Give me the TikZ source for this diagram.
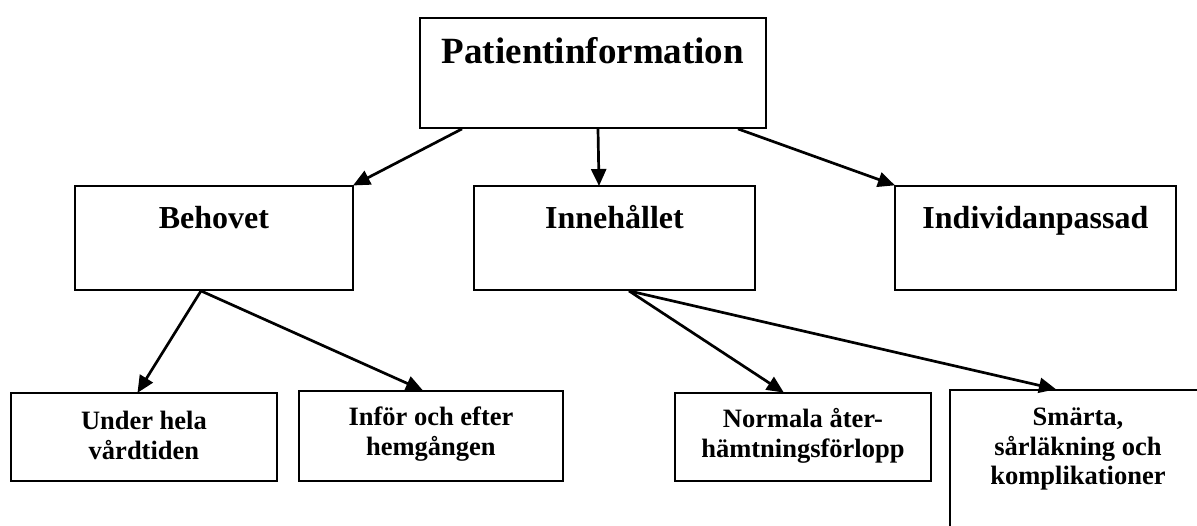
\documentclass[tikz,border=0pt]{standalone}
\usepackage{fontspec}
\setmainfont{Liberation Serif}
\usetikzlibrary{arrows.meta}
\newcommand{\boxtxt}[5]{\parbox[c][#2pt][t]{#1pt}{\centering\fontsize{#3}{#4}\selectfont\bfseries #5}}
\tikzset{
  box/.style={draw, line width=1.9pt, inner sep=0pt, anchor=north west},
  conn/.style={line width=2.7pt, -{Triangle[length=17pt,width=15pt]}, shorten >=-1pt}
}
\begin{document}
\begin{tikzpicture}[x=1pt,y=-1pt]
\clip (0,0) rectangle (1197,525);
\node[box] (top) at (419,17) {\boxtxt{346}{110}{37}{44}{\rule{0pt}{46pt}Patientinformation}};
\node[box] (beh) at (74,185) {\boxtxt{278}{104}{32}{38}{\rule{0pt}{43pt}Behovet}};
\node[box] (inn) at (473,185) {\boxtxt{281}{104}{32}{38}{\rule{0pt}{43pt}Innehållet}};
\node[box] (ind) at (894,185) {\boxtxt{281}{104}{32}{38}{\rule{0pt}{43pt}Individanpassad}};
\node[box] (u1) at (10,392) {\boxtxt{266}{88}{26.5}{30}{\rule{0pt}{37pt}Under hela\\vårdtiden}};
\node[box] (u2) at (298,390) {\boxtxt{264}{90}{26.5}{30}{\rule{0pt}{35pt}Inför och efter\\hemgången}};
\node[box] (n1) at (674,392) {\boxtxt{256}{88}{26.5}{30}{\rule{0pt}{35pt}Normala åter-\\hämtningsförlopp}};
\node[box] (n2) at (949,389) {\parbox[c][180pt][t]{330pt}{\boxtxt{256}{180}{26.5}{29.5}{\rule{0pt}{36pt}Smärta,\\sårläkning och\\komplikationer}\hfill}};
\draw[conn] ([xshift=43pt]top.south west) -- (beh.north east);
\draw[conn] ([xshift=179pt]top.south west) -- ([xshift=126pt]inn.north west);
\draw[conn] ([xshift=319pt]top.south west) -- (ind.north west);
\draw[conn] ([xshift=127pt]beh.south west) -- ([xshift=128pt]u1.north west);
\draw[conn] ([xshift=127pt]beh.south west) -- ([xshift=124pt]u2.north west);
\draw[conn] ([xshift=156pt]inn.south west) -- ([xshift=109pt]n1.north west);
\draw[conn] ([xshift=156pt]inn.south west) -- ([xshift=106pt]n2.north west);
\end{tikzpicture}
\end{document}
